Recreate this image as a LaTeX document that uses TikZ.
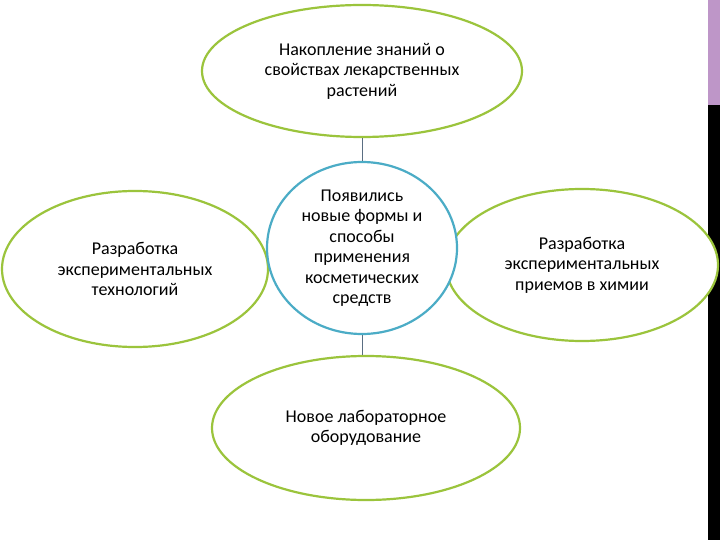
\documentclass[tikz,border=0pt]{standalone}
\usepackage{fontspec}
\setmainfont{Carlito}
\usetikzlibrary{shapes.geometric}
\definecolor{grn}{RGB}{155,196,60}
\definecolor{blu}{RGB}{75,172,198}
\definecolor{pnk}{RGB}{190,150,200}
\definecolor{lnk}{RGB}{90,110,130}
\begin{document}
\begin{tikzpicture}[x=1pt,y=-1pt,
  ell/.style={ellipse,draw=grn,line width=2.2pt,fill=white,inner sep=0pt,align=center,font=\fontsize{18}{20.5}\selectfont},
  link/.style={draw=lnk,line width=0.7pt}]
\useasboundingbox (0,0) rectangle (720,540);
\fill[white] (0,0) rectangle (720,540);
\fill[pnk] (708,0) rectangle (720,105);
\fill[black] (708,105) rectangle (720,540);
\node[ell,minimum width=320,minimum height=132] (top) at (362,71) {Накопление знаний о\\свойствах лекарственных\\растений};
\node[ell,minimum width=308,minimum height=144] (bot) at (366,428) {Новое лабораторное\\оборудование};
\node[ell,minimum width=266,minimum height=156] (left) at (135,269) {Разработка\\экспериментальных\\технологий};
\node[ell,minimum width=272,minimum height=152] (right) at (582,265) {Разработка\\экспериментальных\\приемов в химии};
\node[ell,draw=blu,minimum width=190,minimum height=172] (ctr) at (362,248) {Появились\\новые формы и\\способы\\применения\\косметических\\средств};
\draw[link] (top.south) -- (ctr.north);
\draw[link] (ctr.south) -- (ctr.south |- bot.north);
\end{tikzpicture}
\end{document}
